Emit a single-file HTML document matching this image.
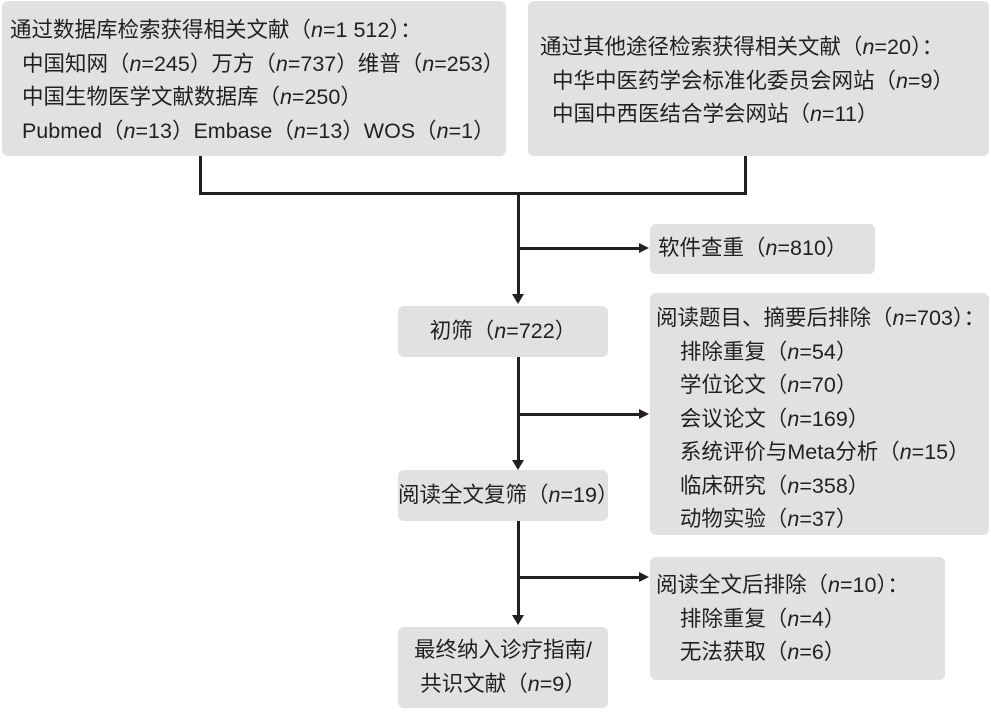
<!DOCTYPE html>
<html><head><meta charset="utf-8"><style>
body{margin:0;width:991px;height:712px;background:#fff;position:relative;overflow:hidden;font-family:"Liberation Sans","Noto Sans CJK SC",sans-serif;color:#231f20;}
.b{position:absolute;background:#e1e1e1;border-radius:6px;font-size:21.5px;line-height:33.5px;box-sizing:border-box;white-space:nowrap;}
.l{position:absolute;background:#231f20;}
i{font-style:italic}
.c{text-align:center}
.ar{position:absolute;width:0;height:0;}
</style></head><body>
<div class="b" style="left:2px;top:1px;width:504px;height:155px;padding:13px 0 0 8px">通过数据库检索获得相关文献（<i>n</i>=1 512）：<br>&nbsp;&nbsp;中国知网（<i>n</i>=245）万方（<i>n</i>=737）维普（<i>n</i>=253）<br>&nbsp;&nbsp;中国生物医学文献数据库（<i>n</i>=250）<br>&nbsp;&nbsp;Pubmed（<i>n</i>=13）Embase（<i>n</i>=13）WOS（<i>n</i>=1）</div>
<div class="b" style="left:528px;top:1px;width:461px;height:155px;padding:30px 0 0 12px">通过其他途径检索获得相关文献（<i>n</i>=20）：<br>&nbsp;&nbsp;中华中医药学会标准化委员会网站（<i>n</i>=9）<br>&nbsp;&nbsp;中国中西医结合学会网站（<i>n</i>=11）</div>
<div class="l" style="left:199px;top:156px;width:3px;height:39px"></div>
<div class="l" style="left:744px;top:156px;width:3px;height:39px"></div>
<div class="l" style="left:199px;top:192px;width:548px;height:3px"></div>
<div class="l" style="left:517px;top:192px;width:3px;height:104px"></div>
<div class="ar" style="left:512px;top:294px;border-left:6.5px solid transparent;border-right:6.5px solid transparent;border-top:10px solid #231f20"></div>
<div class="l" style="left:517px;top:247px;width:124px;height:3px"></div>
<div class="ar" style="left:639px;top:243px;border-top:5.5px solid transparent;border-bottom:5.5px solid transparent;border-left:10px solid #231f20"></div>
<div class="b" style="left:650px;top:224px;width:225px;height:50px;padding:8px 0 0 8px">软件查重（<i>n</i>=810）</div>
<div class="b c" style="left:398px;top:306px;width:210px;height:51px;padding-top:9px">初筛（<i>n</i>=722）</div>
<div class="l" style="left:517px;top:357px;width:3px;height:105px"></div>
<div class="ar" style="left:512px;top:460px;border-left:6.5px solid transparent;border-right:6.5px solid transparent;border-top:10px solid #231f20"></div>
<div class="l" style="left:517px;top:413px;width:124px;height:3px"></div>
<div class="ar" style="left:639px;top:409px;border-top:5.5px solid transparent;border-bottom:5.5px solid transparent;border-left:10px solid #231f20"></div>
<div class="b" style="left:650px;top:293px;width:339px;height:242px;padding:9px 0 0 6px">阅读题目、摘要后排除（<i>n</i>=703）：<br>&nbsp;&nbsp;&nbsp;&nbsp;排除重复（<i>n</i>=54）<br>&nbsp;&nbsp;&nbsp;&nbsp;学位论文（<i>n</i>=70）<br>&nbsp;&nbsp;&nbsp;&nbsp;会议论文（<i>n</i>=169）<br>&nbsp;&nbsp;&nbsp;&nbsp;系统评价与Meta分析（<i>n</i>=15）<br>&nbsp;&nbsp;&nbsp;&nbsp;临床研究（<i>n</i>=358）<br>&nbsp;&nbsp;&nbsp;&nbsp;动物实验（<i>n</i>=37）</div>
<div class="b c" style="left:398px;top:470px;width:210px;height:51px;padding-top:9px">阅读全文复筛（<i>n</i>=19）</div>
<div class="l" style="left:517px;top:521px;width:3px;height:96px"></div>
<div class="ar" style="left:512px;top:615px;border-left:6.5px solid transparent;border-right:6.5px solid transparent;border-top:10px solid #231f20"></div>
<div class="l" style="left:517px;top:576px;width:124px;height:3px"></div>
<div class="ar" style="left:639px;top:572px;border-top:5.5px solid transparent;border-bottom:5.5px solid transparent;border-left:10px solid #231f20"></div>
<div class="b" style="left:650px;top:557px;width:295px;height:123px;padding:12px 0 0 6px">阅读全文后排除（<i>n</i>=10）：<br>&nbsp;&nbsp;&nbsp;&nbsp;排除重复（<i>n</i>=4）<br>&nbsp;&nbsp;&nbsp;&nbsp;无法获取（<i>n</i>=6）</div>
<div class="b c" style="left:398px;top:627px;width:210px;height:81px;line-height:34px;padding-top:6px">最终纳入诊疗指南/<br>共识文献（<i>n</i>=9）</div>
</body></html>
